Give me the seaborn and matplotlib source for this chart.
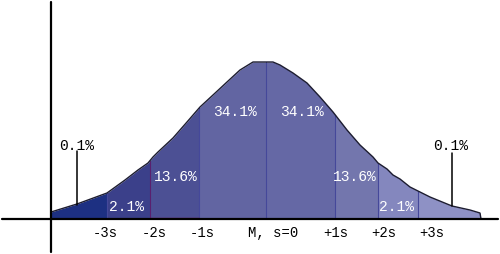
import numpy as np
import pandas as pd
import matplotlib
matplotlib.use("Agg")
import matplotlib.pyplot as plt
import seaborn as sns

# ---- data (x: horizontal position, h: curve height) ----
curve_x = [51, 77, 107, 125, 138, 148, 153, 158, 173, 187, 200, 213, 227, 240, 253,
           273, 280, 293, 307, 320, 333, 347, 360, 373, 378, 387, 393, 400, 410, 430,
           452, 470, 480]
curve_h = [7, 15, 26, 39, 49, 56, 62, 67, 81, 97, 112, 124, 137, 149, 157,
           157, 154, 146, 136, 122, 107, 89, 74, 62, 56, 50, 44, 40, 32, 22,
           13, 9, 6]
boundaries = [51, 107, 150, 199, 266, 335, 378, 418, 481]
pct_labels = ["0.1%", "2.1%", "13.6%", "34.1%", "34.1%", "13.6%", "2.1%", "0.1%"]
tick_labels = ["-3s", "-2s", "-1s", "M, s=0", "+1s", "+2s", "+3s"]

# ---- styling / layout ----
seg_colors = ["#1d3082", "#3b408a", "#4c5094", "#6265a2", "#6568a5", "#7376ad", "#8487be", "#8e91c5"]
tick_pos = [105.5, 154, 202, 273.5, 336, 383.5, 432]
inner_label_pos = [(127, 12), (176, 42), (235, 107), (302, 107), (355, 42), (397, 12)]
outer_label_pos = [(77, 73), (451, 73)]
outer_line = [(77, 68, 14), (452, 66, 13)]

sns.set_style("white")
plt.rcParams["font.family"] = ["Liberation Mono", "DejaVu Sans Mono"]

fig = plt.figure(figsize=(5.0, 2.54), dpi=100)
ax = fig.add_axes([0, 0, 1, 1])
ax.set_xlim(0, 500)
ax.set_ylim(-35, 219)
ax.axis("off")

cx = np.array(curve_x, float)
ch = np.array(curve_h, float)
end_x = np.append(cx, boundaries[-1])
end_h = np.append(ch, 0.0)

for i in range(len(boundaries) - 1):
    a, b = boundaries[i], boundaries[i + 1]
    inside = (end_x > a) & (end_x < b)
    xs = np.concatenate([[a], end_x[inside], [b]])
    hs = np.interp(xs, end_x, end_h)
    ax.fill_between(xs, 0, hs, color=seg_colors[i], lw=0, zorder=1)

# divider lines
for i, bx in enumerate(boundaries[1:-1]):
    top = np.interp(bx, end_x, end_h)
    col = "#5a1f6e" if bx == 150 else "#45489a"
    ax.plot([bx, bx], [0, top], color=col, lw=0.8, zorder=2)
ax.plot([150, 199], [0.6, 0.6], color="#7a1f6a", lw=1.0, zorder=2)

# outline of the curve
df = pd.DataFrame({"x": end_x, "h": end_h})
sns.lineplot(data=df, x="x", y="h", color="#1c1c30", lw=1.0, ax=ax, zorder=3,
             estimator=None, sort=False)

# axes lines
ax.plot([2, 498], [0, 0], color="black", lw=1.6, zorder=4)
ax.plot([51, 51], [-33, 217], color="black", lw=1.6, zorder=4)

# inner labels (white)
inner_texts = pct_labels[1:-1]
for (x, y), t in zip(inner_label_pos, inner_texts):
    ax.text(x, y, t, color="white", fontsize=10.5, ha="center", va="center", zorder=5)

# outer labels with pointer lines
for (x, y), t in zip(outer_label_pos, [pct_labels[0], pct_labels[-1]]):
    ax.text(x, y, t, color="black", fontsize=10.5, ha="center", va="center", zorder=5)
for x, y0, y1 in outer_line:
    ax.plot([x, x], [y0, y1], color="black", lw=1.1, zorder=5)

# tick labels
for x, t in zip(tick_pos, tick_labels):
    ax.text(x, -14, t, color="black", fontsize=10, ha="center", va="center", zorder=5)

fig.savefig("out.png", dpi=100)
